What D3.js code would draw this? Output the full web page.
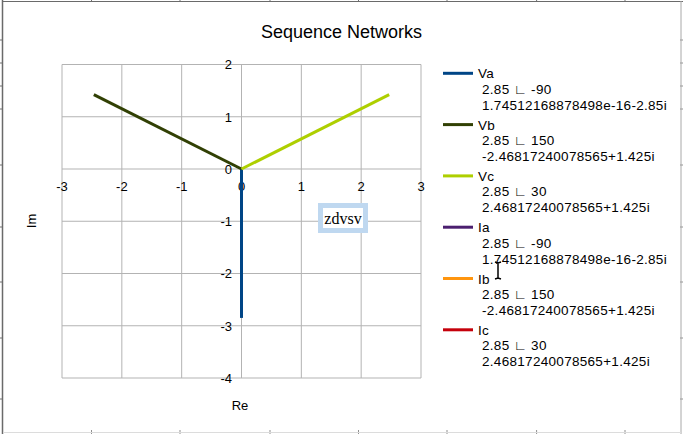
<!DOCTYPE html>
<html>
<head>
<meta charset="utf-8">
<script src="https://cdn.jsdelivr.net/npm/d3@7"></script>
<style>
  body { margin: 0; background: #fff; }
  svg { display: block; font-family: "Liberation Sans", Arial, sans-serif; }
</style>
</head>
<body>
<svg id="chart" width="683" height="434"></svg>
<script>
// Sequence network phasors
var seriesNames = ["Va", "Vb", "Vc", "Ia", "Ib", "Ic"];
var seriesColors = ["#004586", "#314004", "#aecf00", "#4b1f6f", "#ff950e", "#c5000b"];
var polarLabels = ["2.85 \u221F -90", "2.85 \u221F 150", "2.85 \u221F 30",
                   "2.85 \u221F -90", "2.85 \u221F 150", "2.85 \u221F 30"];
var rectLabels = ["1.74512168878498e-16-2.85i", "-2.46817240078565+1.425i", "2.46817240078565+1.425i",
                  "1.74512168878498e-16-2.85i", "-2.46817240078565+1.425i", "2.46817240078565+1.425i"];
// each series: origin -> tip (re, im). current series show no visible line
var vaPoints = [[0, 0], [1.74512168878498e-16, -2.85]];
var vbPoints = [[0, 0], [-2.46817240078565, 1.425]];
var vcPoints = [[0, 0], [2.46817240078565, 1.425]];
var iaPoints = [];
var ibPoints = [];
var icPoints = [];
var xTicks = [-3, -2, -1, 0, 1, 2, 3];
var yTicks = [-4, -3, -2, -1, 0, 1, 2];

// spreadsheet cells peeking round the chart frame
var sheetCols = [91.5, 180, 270, 358.5, 447, 536.6, 625];
var sheetRows = [40, 63, 86, 109, 165, 227, 282, 338, 399];

var svg = d3.select("#chart");

// sheet frame
sheetRows.forEach(function(r) {
  svg.append("line").attr("x1", 0).attr("x2", 3).attr("y1", r).attr("y2", r)
    .style("stroke", "#707070");
  svg.append("line").attr("x1", 680).attr("x2", 683).attr("y1", r).attr("y2", r)
    .style("stroke", "#909090");
});
sheetCols.forEach(function(c) {
  svg.append("line").attr("x1", c).attr("x2", c).attr("y1", 0).attr("y2", 2)
    .style("stroke", "#707070");
  svg.append("line").attr("x1", c).attr("x2", c).attr("y1", 430).attr("y2", 434)
    .style("stroke", "#909090");
});
svg.append("line").attr("x1", 2.5).attr("x2", 2.5).attr("y1", 0).attr("y2", 434)
  .style("stroke", "#6a6a6a").style("stroke-width", 1.5);
svg.append("line").attr("x1", 2).attr("x2", 683).attr("y1", 1.5).attr("y2", 1.5)
  .style("stroke", "#6a6a6a");
svg.append("line").attr("x1", 681).attr("x2", 681).attr("y1", 1).attr("y2", 434)
  .style("stroke", "#a8a8a8");
svg.append("line").attr("x1", 3).attr("x2", 681).attr("y1", 432.5).attr("y2", 432.5)
  .style("stroke", "#dcdcdc");

// plot area
var x = d3.scaleLinear().domain([-3, 3]).range([62, 421]);
var y = d3.scaleLinear().domain([-4, 2]).range([378, 64.5]);

var grid = svg.append("g");
xTicks.forEach(function(t) {
  grid.append("line").attr("x1", x(t)).attr("x2", x(t)).attr("y1", y(2)).attr("y2", y(-4))
    .style("stroke", "#b3b3b3").style("stroke-width", 1);
});
yTicks.forEach(function(t) {
  grid.append("line").attr("x1", x(-3)).attr("x2", x(3)).attr("y1", y(t)).attr("y2", y(t))
    .style("stroke", "#b3b3b3").style("stroke-width", 1);
});

// tick labels sit at the axis crossing
svg.append("g").selectAll("text").data(xTicks).enter().append("text")
  .attr("x", function(d) { return x(d); })
  .attr("y", y(0) + 22)
  .attr("text-anchor", "middle")
  .style("font-size", "13px")
  .text(function(d) { return d; });

svg.append("g").selectAll("text").data(yTicks).enter().append("text")
  .attr("x", x(0) - 9.5)
  .attr("y", function(d) { return y(d) + 4.8; })
  .attr("text-anchor", "end")
  .style("font-size", "13px")
  .text(function(d) { return d; });

// series lines
var allPoints = [vaPoints, vbPoints, vcPoints, iaPoints, ibPoints, icPoints];
var line = d3.line().x(function(d) { return x(d[0]); }).y(function(d) { return y(d[1]); });
allPoints.forEach(function(pts, i) {
  if (pts.length === 0) return;
  svg.append("path")
    .attr("d", line(pts))
    .style("fill", "none")
    .style("stroke", seriesColors[i])
    .style("stroke-width", 3)
    .style("stroke-linejoin", "round");
});

// titles
svg.append("text").attr("x", 341.5).attr("y", 37.5).attr("text-anchor", "middle")
  .style("font-size", "18px").text("Sequence Networks");
svg.append("text").attr("x", 240).attr("y", 410).attr("text-anchor", "middle")
  .style("font-size", "13px").text("Re");
svg.append("text").attr("transform", "translate(36,221) rotate(-90)").attr("text-anchor", "middle")
  .style("font-size", "13px").text("Im");

// legend
var legend = svg.append("g").style("font-size", "13.5px").style("letter-spacing", "0.3px");
seriesNames.forEach(function(name, i) {
  var ly = 73.3 + i * 51.3;
  legend.append("line").attr("x1", 443).attr("x2", 473).attr("y1", ly).attr("y2", ly)
    .style("stroke", seriesColors[i]).style("stroke-width", 3);
  legend.append("text").attr("x", 478).attr("y", ly + 5)
    .text(name);
  legend.append("text").attr("x", 482).attr("y", ly + 20.5)
    .text(polarLabels[i]);
  legend.append("text").attr("x", 482).attr("y", ly + 36.5)
    .text(rectLabels[i]);
});

// selected text box in the plot
svg.append("rect").attr("x", 320.5).attr("y", 205.5).attr("width", 45).attr("height", 25)
  .style("fill", "#fff").style("stroke", "#bfd8f0").style("stroke-width", 5);
svg.append("text").attr("x", 343).attr("y", 223.5).attr("text-anchor", "middle")
  .style("font-family", "'Liberation Serif', 'Times New Roman', serif")
  .style("font-size", "16px").text("zdvsv");

// mouse I-beam
svg.append("path")
  .attr("d", "M495,262 L498,263 L501,262 M498,263 L498,278 M495,279 L498,278 L501,279")
  .style("fill", "none").style("stroke", "#000").style("stroke-width", 1.5);
</script>
</body>
</html>
